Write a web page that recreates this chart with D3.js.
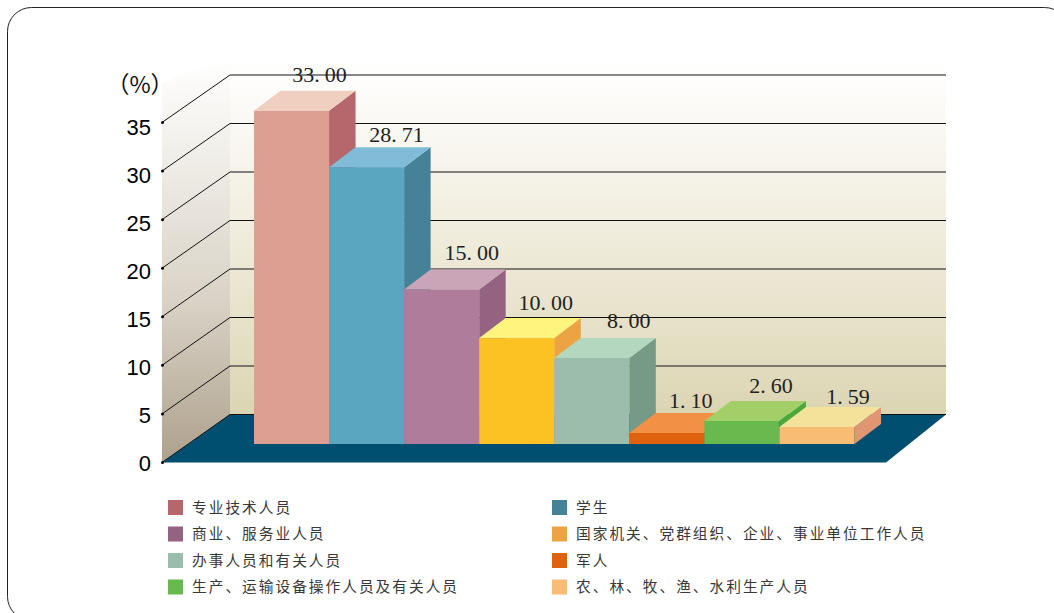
<!doctype html>
<html lang="en">
<head>
<meta charset="utf-8">
<script src="https://cdnjs.cloudflare.com/ajax/libs/d3/7.8.5/d3.min.js"></script>
<style>
  html, body{width:100%; height:100%; margin:0px; padding:0px; background:#fff; overflow:hidden;}
  svg{display:block;}
  .tick{font-family:"Liberation Sans", Arial, sans-serif; font-size:22px; fill:#000;}
  .val{font-family:"Liberation Serif", serif; font-size:22px; fill:#222;}
  .leg{font-family:"Noto Sans CJK SC", sans-serif; font-size:14.7px; fill:#383838; letter-spacing:2px;}
</style>
</head>
<body>
<div id="view"></div>
<script>
// values
var categories = ["专业技术人员","学生","商业、服务业人员","国家机关、党群组织、企业、事业单位工作人员",
  "办事人员和有关人员","军人","生产、运输设备操作人员及有关人员","农、林、牧、渔、水利生产人员"];
var valueLabels = ["33.00","28.71","15.00","10.00","8.00","1.10","2.60","1.59"];
// bar heights as they read against the axis (the printed labels differ a little)
var barValues = [34.3,28.5,15.9,10.9,8.86,1.13,2.37,1.75];
var yTicks = [0,5,10,15,20,25,30,35];

var frontColors = ["#dd9f92","#5aa5c0","#b07c9c","#fcc123","#9cbcac","#e0610e","#68ba4e","#f8bc74"];
var topColors = ["#f0cfc0","#80bcd8","#c9a5b7","#fff57e","#b3d7bf","#f29145","#a2cf68","#f5e29a"];
var sideColors = ["#b5676c","#458197","#956382","#eba343","#769a85","#e0610e","#4ba93a","#e09673"];
var legendColors = ["#b5676c","#458197","#956382","#eba343","#9cbcac","#e0610e","#68ba4e","#f8bc74"];

var svg = d3.select("#view").append("svg").attr("width",1054).attr("height",613);
var defs = svg.append("defs");

function grad(id, stops){
  var g = defs.append("linearGradient").attr("id",id).attr("x1",0).attr("y1",0).attr("x2",0).attr("y2",1);
  stops.forEach(function(s){ g.append("stop").attr("offset",s[0]).attr("stop-color",s[1]); });
}
grad("backWall",[[0,"#ffffff"],[0.12,"#fcfbf8"],[0.5,"#f0ecdc"],[1,"#dcd5b3"]]);
grad("leftWall",[[0,"#ffffff"],[0.2,"#f3f1ec"],[0.6,"#d9d2c6"],[1,"#ada18c"]]);

// outer frame
svg.append("rect").attr("x",7.5).attr("y",7.5).attr("width",1061).attr("height",613).attr("rx",24)
  .attr("fill","none").attr("stroke","#222").attr("stroke-width",1);

var yFront = d3.scaleLinear().domain([0,35]).range([462.5,122.5]);
var yBack = d3.scaleLinear().domain([0,35]).range([414.5,75]);
var yBar = d3.scaleLinear().domain([0,35]).range([444,104]);
var yLabel = d3.scaleLinear().domain([0,35]).range([463,127.5]);
var x = d3.scaleBand().domain(d3.range(categories.length)).range([254,854.5]);

var wallL = 162, wallR = 230, wallEnd = 946, floorEnd = 886;
var dx = 26.5, dy = 20;
var line = d3.line();

// walls and floor
svg.append("path").attr("d",line([[wallR,58],[wallEnd,58],[wallEnd,yBack(0)],[wallR,yBack(0)]]))
  .attr("fill","url(#backWall)");
svg.append("path").attr("d",line([[wallL,83],[wallR,58],[wallR,yBack(0)],[wallL,yFront(0)]]))
  .attr("fill","url(#leftWall)");
svg.append("path").attr("d",line([[wallL,yFront(0)],[wallR,yBack(0)],[wallEnd,yBack(0)],[floorEnd,yFront(0)]]))
  .attr("fill","#004f70");

// grid
svg.selectAll(".grid").data(yTicks).enter().append("path").attr("class","grid")
  .attr("d",function(d){ return line([[wallL,yFront(d)],[wallR,yBack(d)],[wallEnd,yBack(d)]]); })
  .attr("fill","none").attr("stroke","#111").attr("stroke-width",1);
svg.selectAll(".dot").data(yTicks).enter().append("circle")
  .attr("cx",wallL+0.5).attr("cy",function(d){ return yFront(d); }).attr("r",1.5).attr("fill","#000");

// y axis labels
svg.selectAll(".tick").data(yTicks).enter().append("text").attr("class","tick")
  .attr("x",151).attr("y",function(d){ return yLabel(d); }).attr("dy","0.36em")
  .attr("text-anchor","end").text(function(d){ return d; });
svg.append("text").attr("x",140).attr("y",93).attr("text-anchor","middle")
  .style("font-family",'"Noto Sans CJK SC", sans-serif').style("font-size","23px").attr("fill","#111").text("（%）");

// bars, left to right so each one covers the side of the one before
var w = x.bandwidth();
var bars = svg.selectAll(".bar").data(barValues).enter().append("g").attr("class","bar");
bars.append("path").attr("fill",function(d,i){ return sideColors[i]; })
  .attr("d",function(d,i){ var r=x(i)+w, t=yBar(d), b=yBar(0);
    return line([[r,t],[r+dx,t-dy],[r+dx,b-dy],[r,b]]); });
bars.append("path").attr("fill",function(d,i){ return topColors[i]; })
  .attr("d",function(d,i){ var l=x(i), t=yBar(d);
    return line([[l,t],[l+dx,t-dy],[l+w+dx,t-dy],[l+w,t]]); });
bars.append("rect").attr("fill",function(d,i){ return frontColors[i]; })
  .attr("x",function(d,i){ return x(i); }).attr("y",function(d){ return yBar(d); })
  .attr("width",w).attr("height",function(d){ return yBar(0)-yBar(d); });

// value labels sit a little unevenly in the original, with a gap after the point
var nudgeX = [28,30,30,29,37,24,29,31], nudgeY = [16,13,17,16,17,13,15,10];
var vals = svg.selectAll(".val").data(valueLabels).enter().append("text").attr("class","val")
  .attr("x",function(d,i){ return x(i)+w/2+nudgeX[i]; })
  .attr("y",function(d,i){ return yBar(barValues[i])-dy-nudgeY[i]; })
  .attr("dy","0.34em").attr("text-anchor","middle");
vals.append("tspan").text(function(d){ return d.split(".")[0]+"."; });
vals.append("tspan").attr("dx",5).text(function(d){ return d.split(".")[1]; });

// legend
var legCol = [168,552], legRow = [507.5,534,560.5,587];
var leg = svg.selectAll(".legItem").data(categories).enter().append("g").attr("class","legItem")
  .attr("transform",function(d,i){ return "translate("+legCol[i%2]+","+legRow[Math.floor(i/2)]+")"; });
leg.append("rect").attr("x",0).attr("y",-7.5).attr("width",15).attr("height",15)
  .attr("fill",function(d,i){ return legendColors[i]; });
leg.append("text").attr("class","leg").attr("x",24).attr("dy","0.36em").text(function(d){ return d; });
</script>
</body>
</html>
